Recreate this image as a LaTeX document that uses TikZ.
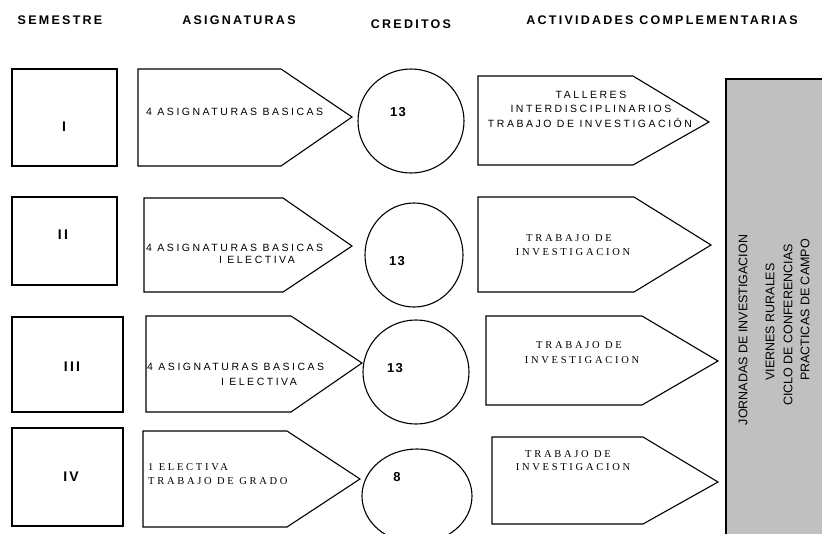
\documentclass[tikz,border=0pt]{standalone}
\usepackage{fontspec}
\setmainfont{Liberation Sans}
\newfontfamily\hdrfont[LetterSpace=18]{Liberation Sans}
\newfontfamily\spsans[LetterSpace=24]{Liberation Sans}
\newfontfamily\spserif[LetterSpace=26]{Liberation Serif}
\newfontfamily\numfont[LetterSpace=10]{Liberation Sans}
\newfontfamily\romfont[LetterSpace=16]{Liberation Sans}
\definecolor{panelgray}{RGB}{192,192,192}
\tikzset{
  outline/.style={draw=black, line width=1.1pt, line join=miter},
  hdr/.style={font=\hdrfont\bfseries\fontsize{12.5}{14}\selectfont, inner sep=0pt},
  num/.style={font=\numfont\bfseries\fontsize{13}{15}\selectfont, inner sep=0pt},
  roman/.style={font=\romfont\bfseries\fontsize{14}{16}\selectfont, inner sep=0pt},
  sanstxt/.style={font=\spsans\fontsize{10.5}{12}\selectfont, inner sep=0pt},
  seriftxt/.style={font=\spserif\fontsize{10.5}{12}\selectfont, inner sep=0pt},
  sidetxt/.style={font=\fontsize{12.5}{14}\selectfont, inner sep=0pt, rotate=90},
}
\newcommand{\pentshape}[6]{\draw[outline] (#1,#4) -- (#2,#4) -- (#3,#6) -- (#2,#5) -- (#1,#5) -- cycle;}
\begin{document}
\begin{tikzpicture}[x=1pt,y=-1pt]
\useasboundingbox (0,0) rectangle (822,533);
\clip (0,0) rectangle (822,533);
% headers
\node[hdr] (hsem) at (60,20) {SEMESTRE};
\node[hdr] (hasig) at (239,20) {ASIGNATURAS};
\node[hdr] (hcred) at (411,24) {CREDITOS};
\node[hdr] (hact) at (662,20) {ACTIVIDADES COMPLEMENTARIAS};
% gray panel
\draw[outline, fill=panelgray] (726,79) rectangle (840,560);
\node[sidetxt] (j1) at (743,330) {JORNADAS DE INVESTIGACION};
\node[sidetxt] (j2) at (770,322) {VIERNES RURALES};
\node[sidetxt] (j3) at (788,325) {CICLO DE CONFERENCIAS};
\node[sidetxt] (j4) at (805,310) {PRACTICAS DE CAMPO};
% semester squares
\draw[outline] (12,69) rectangle (117,166);
\draw[outline] (12,197) rectangle (117,285);
\draw[outline] (12,317) rectangle (123,412);
\draw[outline] (12,428) rectangle (123,526);
\node[roman] (s1) at (64,127) {I};
\node[roman] (s2) at (63,235) {II};
\node[roman] (s3) at (72,367) {III};
\node[roman] (s4) at (71,477) {IV};
% asignaturas pentagons
\pentshape{138}{281}{352}{69}{166}{117}
\pentshape{144}{283}{352}{198}{292}{246}
\pentshape{146}{291}{362}{316}{412}{363}
\pentshape{143}{287}{360}{431}{527}{479}
\node[sanstxt, anchor=west] (a1) at (146,112) {4 ASIGNATURAS BASICAS};
\node[sanstxt, anchor=west] (a2) at (146,248) {4 ASIGNATURAS BASICAS};
\node[sanstxt] (a2b) at (257,260) {I ELECTIVA};
\node[sanstxt, anchor=west] (a3) at (147,367) {4 ASIGNATURAS BASICAS};
\node[sanstxt] (a3b) at (259,382) {I ELECTIVA};
\node[seriftxt, anchor=west] (a4) at (148,467) {1 ELECTIVA};
\node[seriftxt, anchor=west] (a4b) at (148,481) {TRABAJO DE GRADO};
% credit circles
\draw[outline] (411,121) ellipse [x radius=53, y radius=52];
\draw[outline] (414,255) ellipse [x radius=49, y radius=52];
\draw[outline] (416,372) ellipse [x radius=53, y radius=52];
\draw[outline] (417,496) ellipse [x radius=55, y radius=47];
\node[num] (c1) at (398,112) {13};
\node[num] (c2) at (397,261) {13};
\node[num] (c3) at (395,368) {13};
\node[num] (c4) at (397,477) {8};
% actividades pentagons
\pentshape{478}{633}{709}{76}{165}{122}
\pentshape{478}{634}{711}{197}{292}{245}
\pentshape{486}{642}{718}{316}{405}{361}
\pentshape{492}{643}{718}{437}{524}{482}
\node[sanstxt] (t1a) at (591,95) {TALLERES};
\node[sanstxt] (t1b) at (591,109) {INTERDISCIPLINARIOS};
\node[sanstxt] (t1c) at (590,123) {TRABAJO DE INVESTIGACIÓN};
\node[seriftxt] (t2a) at (569,238) {TRABAJO DE};
\node[seriftxt] (t2b) at (573,252) {INVESTIGACION};
\node[seriftxt] (t3a) at (579,345) {TRABAJO DE};
\node[seriftxt] (t3b) at (582,360) {INVESTIGACION};
\node[seriftxt] (t4a) at (568,454) {TRABAJO DE};
\node[seriftxt] (t4b) at (573,467) {INVESTIGACION};
\end{tikzpicture}
\end{document}
